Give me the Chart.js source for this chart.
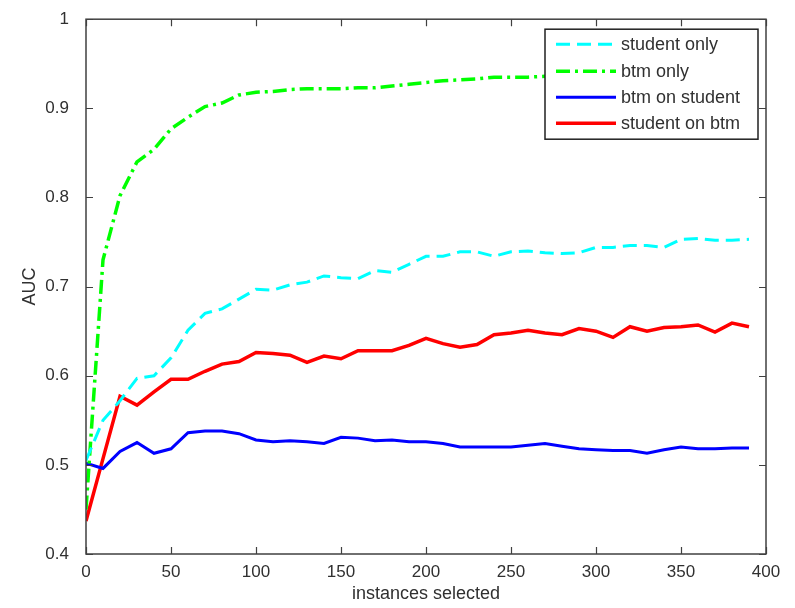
<!DOCTYPE html>
<html>
<head>
<meta charset="utf-8">
<script src="https://cdn.jsdelivr.net/npm/chart.js@4/dist/chart.umd.min.js"></script>
<style>
  html, body { margin: 0; padding: 0; background: #fff; }
  #wrap { width: 795px; height: 608px; }
</style>
</head>
<body>
<div id="wrap"><canvas id="auc" width="795" height="608"></canvas></div>
<script>
// instances selected (x axis)
const instances = [0, 10, 20, 30, 40, 50, 60, 70, 80, 90, 100, 110, 120, 130, 140, 150, 160, 170, 180, 190,
  200, 210, 220, 230, 240, 250, 260, 270, 280, 290, 300, 310, 320, 330, 340, 350, 360, 370, 380, 390]

const studentOnly = [0.505, 0.550, 0.572, 0.597, 0.600, 0.620, 0.651, 0.670, 0.675, 0.686,
  0.697, 0.696, 0.702, 0.705, 0.712, 0.710, 0.709, 0.718, 0.716, 0.725,
  0.734, 0.734, 0.739, 0.739, 0.734, 0.739, 0.740, 0.738, 0.737, 0.738,
  0.744, 0.744, 0.746, 0.746, 0.744, 0.753, 0.754, 0.752, 0.752, 0.753]

const btmOnly = [0.450, 0.730, 0.802, 0.840, 0.854, 0.877, 0.890, 0.902, 0.906, 0.915,
  0.918, 0.919, 0.921, 0.922, 0.922, 0.922, 0.923, 0.923, 0.925, 0.927,
  0.929, 0.931, 0.932, 0.933, 0.935, 0.935, 0.935, 0.936, 0.937, 0.937,
  0.938, 0.938, 0.939, 0.939, 0.940, 0.940, 0.941, 0.941, 0.941, 0.942]

const btmOnStudent = [0.502, 0.496, 0.515, 0.525, 0.513, 0.518, 0.536, 0.538, 0.538, 0.535,
  0.528, 0.526, 0.527, 0.526, 0.524, 0.531, 0.530, 0.527, 0.528, 0.526,
  0.526, 0.524, 0.520, 0.520, 0.520, 0.520, 0.522, 0.524, 0.521, 0.518,
  0.517, 0.516, 0.516, 0.513, 0.517, 0.520, 0.518, 0.518, 0.519, 0.519]

const studentOnBtm = [0.437, 0.507, 0.577, 0.567, 0.582, 0.596, 0.596, 0.605, 0.613, 0.616,
  0.626, 0.625, 0.623, 0.615, 0.622, 0.619, 0.628, 0.628, 0.628, 0.634,
  0.642, 0.636, 0.632, 0.635, 0.646, 0.648, 0.651, 0.648, 0.646, 0.653,
  0.650, 0.643, 0.655, 0.650, 0.654, 0.655, 0.657, 0.649, 0.659, 0.655]

const seriesLabels = ['student only', 'btm only', 'btm on student', 'student on btm']

const FONT = '"Liberation Sans", Arial, sans-serif'
const TEXT = '#303030'
const AXIS = '#404040'

function points(ys) {
  return instances.map((x, i) => ({x: x, y: ys[i]}))
}

// matlab style box: frame + inward ticks on all four sides
const boxPlugin = {
  id: 'box',
  afterDatasetsDraw(chart) {
    const {ctx, chartArea: a, scales} = chart
    const tl = 7
    ctx.save()
    ctx.strokeStyle = AXIS
    ctx.lineWidth = 1.5
    ctx.strokeRect(a.left, a.top, a.right - a.left, a.bottom - a.top)
    ctx.beginPath()
    scales.x.ticks.forEach((t, i) => {
      const px = Math.round(scales.x.getPixelForTick(i)) + 0.5
      ctx.moveTo(px, a.bottom); ctx.lineTo(px, a.bottom - tl)
      ctx.moveTo(px, a.top); ctx.lineTo(px, a.top + tl)
    })
    scales.y.ticks.forEach((t, i) => {
      const py = Math.round(scales.y.getPixelForTick(i)) + 0.5
      ctx.moveTo(a.left, py); ctx.lineTo(a.left + tl, py)
      ctx.moveTo(a.right, py); ctx.lineTo(a.right - tl, py)
    })
    ctx.lineWidth = 1.2
    ctx.stroke()
    ctx.restore()
  },
  afterDraw(chart) {
    // legend box drawn over the lines, like matlab
    const {ctx, chartArea: a} = chart
    const w = 213, h = 110
    const x0 = a.right - 8 - w, y0 = a.top + 10
    const rows = [15, 42, 68, 94]
    ctx.save()
    ctx.fillStyle = '#fff'
    ctx.fillRect(x0, y0, w, h)
    ctx.strokeStyle = '#202020'
    ctx.lineWidth = 1.5
    ctx.strokeRect(x0, y0, w, h)
    chart.data.datasets.forEach((ds, i) => {
      const y = y0 + rows[i]
      ctx.beginPath()
      ctx.setLineDash(ds.borderDash || [])
      ctx.strokeStyle = ds.borderColor
      ctx.lineWidth = ds.borderWidth
      ctx.moveTo(x0 + 11, y)
      ctx.lineTo(x0 + 71, y)
      ctx.stroke()
      ctx.setLineDash([])
      ctx.fillStyle = TEXT
      ctx.font = '18px ' + FONT
      ctx.textBaseline = 'middle'
      ctx.textAlign = 'left'
      ctx.fillText(ds.label, x0 + 76, y + 1)
    })
    ctx.restore()
  }
}

const ctx = document.getElementById('auc').getContext('2d')

new Chart(ctx, {
  type: 'line',
  data: {
    datasets: [
      {label: seriesLabels[0], data: points(studentOnly), borderColor: '#00ffff', borderWidth: 3, borderDash: [14, 7]},
      {label: seriesLabels[1], data: points(btmOnly), borderColor: '#00ff00', borderWidth: 3.5, borderDash: [14, 5, 3, 5]},
      {label: seriesLabels[2], data: points(btmOnStudent), borderColor: '#0000ff', borderWidth: 3},
      {label: seriesLabels[3], data: points(studentOnBtm), borderColor: '#ff0000', borderWidth: 3.5}
    ]
  },
  options: {
    responsive: false,
    animation: false,
    elements: {point: {radius: 0}, line: {tension: 0, fill: false}},
    layout: {padding: {top: 18, right: 29, left: 0, bottom: 0}},
    plugins: {legend: {display: false}, tooltip: {enabled: false}},
    scales: {
      x: {
        type: 'linear', min: 0, max: 400,
        grid: {display: false}, border: {display: false},
        ticks: {stepSize: 50, padding: 0, color: TEXT, font: {family: FONT, size: 17}, maxRotation: 0},
        title: {display: true, text: 'instances selected', color: TEXT, font: {family: FONT, size: 18}, padding: {top: 0, bottom: 3}},
        afterFit: (s) => { s.height = 54 }
      },
      y: {
        type: 'linear', min: 0.4, max: 1,
        grid: {display: false}, border: {display: false},
        ticks: {stepSize: 0.1, padding: 9, color: TEXT, font: {family: FONT, size: 17},
          callback: (v) => String(Math.round(v * 10) / 10)},
        title: {display: true, text: 'AUC', color: TEXT, font: {family: FONT, size: 18}, padding: {top: 19, bottom: 0}},
        afterFit: (s) => { s.width = 86 }
      }
    }
  },
  plugins: [boxPlugin]
})
</script>
</body>
</html>
